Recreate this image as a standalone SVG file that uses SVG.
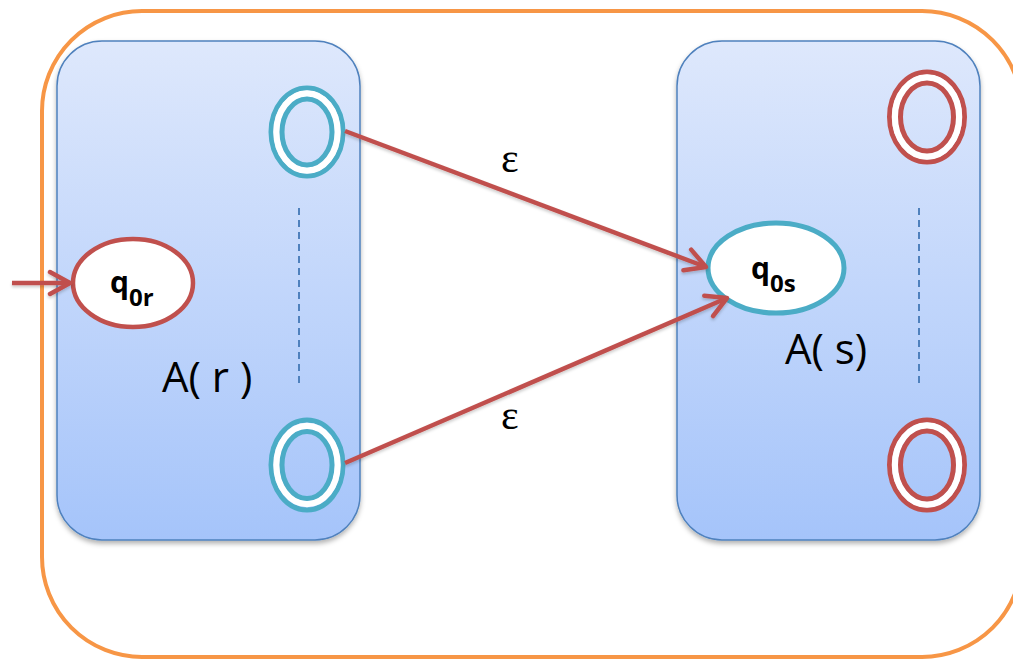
<svg xmlns="http://www.w3.org/2000/svg" width="1013" height="661" viewBox="0 0 1013 661">
<style>
.box{fill:url(#bg);stroke:#4F81BD;stroke-width:1.5;filter:url(#sh)}
.dash{stroke:#4F81BD;stroke-width:2;stroke-dasharray:7 5;fill:none}
.teal{fill:none;stroke:#4BACC6;stroke-width:5}
.red{fill:none;stroke:#C0504D;stroke-width:5}
.ring{fill:none;stroke:#FFFFFF;stroke-width:6.5}
.edge{stroke:#C0504D;stroke-width:4.5;fill:none;marker-end:url(#ah)}
.lbl{font-family:"Open Sans","Liberation Sans",sans-serif;font-size:42px;fill:#000}
.q{font-family:"Open Sans","Liberation Sans",sans-serif;font-weight:bold;font-size:30px;fill:#000}
.sub{font-size:24px}
.eps{font-family:"Liberation Serif","DejaVu Serif",serif;font-size:42px;fill:#000}
</style>
<defs>
<linearGradient id="bg" x1="0" y1="0" x2="0" y2="1">
<stop offset="0" stop-color="#DEE8FC"/>
<stop offset="1" stop-color="#A5C4FA"/>
</linearGradient>
<filter id="sh" x="-10%" y="-10%" width="120%" height="120%">
<feDropShadow dx="0" dy="3" stdDeviation="2.5" flood-color="#000" flood-opacity="0.3"/>
</filter>
<filter id="sh2" filterUnits="userSpaceOnUse" x="0" y="0" width="1013" height="661">
<feDropShadow dx="0" dy="2" stdDeviation="1.5" flood-color="#000" flood-opacity="0.2"/>
</filter>
<marker id="ah" markerUnits="userSpaceOnUse" viewBox="-24 -14 27 28" markerWidth="27" markerHeight="28" refX="0" refY="0" orient="auto">
<path d="M-20,-11 L0,0 L-20,11" fill="none" stroke="#C0504D" stroke-width="4.5" stroke-linecap="round" stroke-linejoin="round"/>
</marker>
</defs>
<rect width="1013" height="661" fill="#FFFFFF"/>
<g id="outer">
<rect x="42" y="11" width="980" height="646" rx="100" ry="100" fill="none" stroke="#F79646" stroke-width="4"/>
</g>
<g id="Ar">
<rect class="box" x="57" y="41" width="303" height="499" rx="45" ry="45"/>
<line class="dash" x1="299" y1="208" x2="299" y2="383"/>
<text class="lbl" x="162" y="392">A( r )</text>
</g>
<g id="As">
<rect class="box" x="677" y="41" width="303" height="499" rx="45" ry="45"/>
<line class="dash" x1="919" y1="208" x2="919" y2="383"/>
<text class="lbl" x="785" y="364">A( s)</text>
</g>
<g id="q0r">
<ellipse cx="133" cy="283" rx="60" ry="44" fill="#FFFFFF" stroke="#C0504D" stroke-width="4.5"/>
<text class="q" x="110" y="293">q<tspan class="sub" dy="13">0r</tspan></text>
</g>
<g id="q0s">
<ellipse cx="776" cy="268" rx="68" ry="45" fill="#FFFFFF" stroke="#4BACC6" stroke-width="5"/>
<text class="q" x="751" y="279">q<tspan class="sub" dy="13">0s</tspan></text>
</g>
<g id="fr1">
<ellipse class="teal" cx="307" cy="132" rx="36" ry="44"/>
<ellipse class="ring" cx="307" cy="132" rx="30.5" ry="38.5"/>
<ellipse class="teal" cx="307" cy="132" rx="25" ry="33"/>
</g>
<g id="fr2">
<ellipse class="teal" cx="307" cy="465" rx="36" ry="45"/>
<ellipse class="ring" cx="307" cy="465" rx="30.5" ry="39"/>
<ellipse class="teal" cx="307" cy="465" rx="25" ry="33.5"/>
</g>
<g id="fs1">
<ellipse class="red" cx="927" cy="117" rx="37.5" ry="45"/>
<ellipse class="ring" cx="927" cy="117" rx="32" ry="39.5"/>
<ellipse class="red" cx="927" cy="117" rx="26.5" ry="34"/>
</g>
<g id="fs2">
<ellipse class="red" cx="927" cy="465" rx="37.5" ry="45"/>
<ellipse class="ring" cx="927" cy="465" rx="32" ry="39.5"/>
<ellipse class="red" cx="927" cy="465" rx="26.5" ry="34"/>
</g>
<g id="connectors" filter="url(#sh2)">
<line class="edge" x1="12" y1="283" x2="70" y2="283"/>
<line class="edge" x1="345" y1="131" x2="706" y2="267"/>
<line class="edge" x1="345" y1="463" x2="727" y2="298"/>
</g>
<g id="labels">
<text class="eps" x="501" y="172">ε</text>
<text class="eps" x="501" y="429">ε</text>
</g>
</svg>
